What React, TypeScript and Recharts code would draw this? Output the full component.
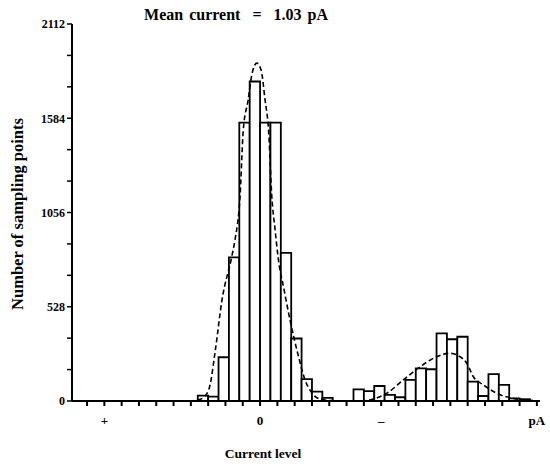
import { ComposedChart, Line, XAxis, YAxis, ReferenceArea } from 'recharts';

// histogram bins: left edge of each bin (current level units) and counts
const BIN_WIDTH = 0.6;
const binLeft = [
  -3.6, -3.0, -2.4, -1.8, -1.2, -0.6, 0, 0.6, 1.2, 1.8, 2.4, 3.0, 3.6,
  5.4, 6.0, 6.6, 7.2, 7.8, 8.4, 9.0, 9.6, 10.2, 10.8, 11.4, 12.0, 12.6, 13.2, 13.8, 14.4, 15.0,
];
const binCount = [
  30, 25, 245, 805, 1560, 1790, 1560, 1560, 830, 350, 123, 52, 18,
  65, 55, 84, 34, 21, 118, 183, 178, 379, 346, 360, 108, 28, 151, 90, 15, 10,
];

// fitted curve (dashed)
const curveX = [
  -3.6, -3.18, -2.89, -2.6, -2.2, -1.64, -1.45, -1.16, -0.97, -0.69, -0.48, -0.19, 0.06, 0.29,
  0.49, 0.68, 0.87, 1.04, 1.39, 1.73, 2.2, 2.6, 3.0, 3.47, 4.2, 5.78, 6.65, 7.32, 8.28, 9.25,
  10.21, 10.98, 11.56, 11.95, 12.33, 12.91, 13.68, 14.62, 15.78,
];
const curveY = [
  5, 28, 90, 274, 566, 807, 902, 1143, 1518, 1686, 1826, 1893, 1854, 1686,
  1518, 1143, 958, 807, 622, 454, 258, 118, 45, 11, 2, 0, 14, 43, 118, 192,
  248, 267, 248, 211, 136, 90, 43, 15, 2,
];

const xTicks = [-10, -9, -8, -7, -6, -5, -4, -3, -2, -1, 0, 1, 2, 3, 4, 5, 6, 7, 8, 9, 10, 11, 12, 13, 14, 15, 16];
const xTickLabels: Record<number, string> = { [-9]: '+', 0: '0', 7: '\u2013', 16: 'pA' };
const yTicks = [0, 176, 352, 528, 704, 880, 1056, 1232, 1408, 1584, 1760, 1936, 2112];
const yLabelled = [0, 528, 1056, 1584, 2112];

const curveData = curveX.map((x, i) => ({ x, y: curveY[i] }));

const FONT = '"Liberation Serif", "DejaVu Serif", serif';

const App = () => {
  const tickStyle = { fontFamily: FONT, fontWeight: 700, fontSize: 12, fill: '#000' };

  return (
    <div style={{ position: 'absolute', left: 0, top: 0, width: 550, height: 464, background: '#fff' }}>
      <ComposedChart
        width={550}
        height={464}
        data={curveData}
        margin={{ top: 24, right: 10, bottom: 0, left: 0 }}
      >
        <XAxis
          dataKey="x"
          type="number"
          domain={[-10.87, 16.18]}
          ticks={xTicks}
          allowDataOverflow
          height={63}
          tickSize={5}
          axisLine={{ stroke: '#000', strokeWidth: 2 }}
          tickLine={{ stroke: '#000', strokeWidth: 2 }}
          tick={{ ...tickStyle, fontSize: 13, dy: 8 }}
          tickFormatter={(v: number) => xTickLabels[v] ?? ''}
          interval={0}
        />
        <YAxis
          type="number"
          domain={[0, 2112]}
          ticks={yTicks}
          width={72}
          tickSize={5}
          interval={0}
          axisLine={{ stroke: '#000', strokeWidth: 2 }}
          tickLine={{ stroke: '#000', strokeWidth: 1.5 }}
          tick={tickStyle}
          tickFormatter={(v: number) => (yLabelled.includes(v) ? String(v) : '')}
        />
        {binLeft.map((left, i) => (
          <ReferenceArea
            key={i}
            x1={left}
            x2={left + BIN_WIDTH}
            y1={0}
            y2={binCount[i]}
            fill="#fff"
            fillOpacity={1}
            stroke="#000"
            strokeWidth={1.8}
          />
        ))}
        <Line
          type="monotone"
          dataKey="y"
          stroke="#000"
          strokeWidth={1.6}
          strokeDasharray="5 3"
          dot={false}
          isAnimationActive={false}
        />
      </ComposedChart>
      <div
        style={{
          position: 'absolute', left: 236, top: 15, transform: 'translate(-50%, -50%)',
          fontFamily: FONT, fontWeight: 700, fontSize: 16, wordSpacing: 2, whiteSpace: 'pre', color: '#000',
        }}
      >
        Mean current  =  1.03 pA
      </div>
      <div
        style={{
          position: 'absolute', left: 18, top: 214, transform: 'translate(-50%, -50%) rotate(-90deg)',
          fontFamily: FONT, fontWeight: 700, fontSize: 16.5, whiteSpace: 'nowrap', color: '#000',
        }}
      >
        Number of sampling points
      </div>
      <div
        style={{
          position: 'absolute', left: 263, top: 454, transform: 'translate(-50%, -50%)',
          fontFamily: FONT, fontWeight: 700, fontSize: 13.5, whiteSpace: 'nowrap', color: '#000',
        }}
      >
        Current level
      </div>
    </div>
  );
};

export default App;
